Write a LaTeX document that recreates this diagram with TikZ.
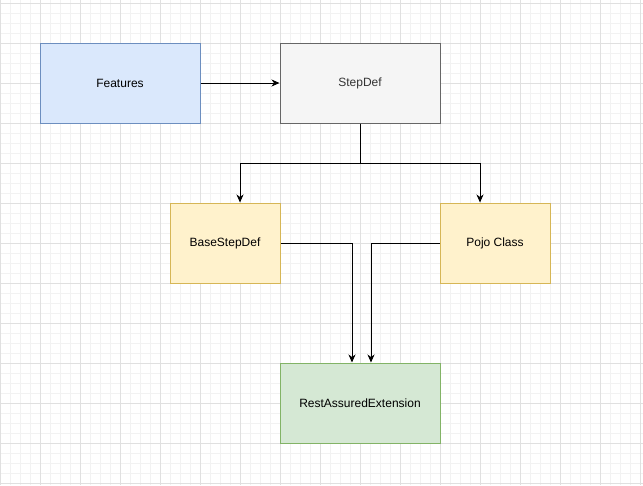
\documentclass[tikz,border=0pt]{standalone}
\usepackage{fontspec}
\setmainfont{Liberation Sans}
\usepackage{xcolor}
\usetikzlibrary{arrows.meta}

\definecolor{featfill}{HTML}{DAE8FC}
\definecolor{featline}{HTML}{6C8EBF}
\definecolor{stepfill}{HTML}{F5F5F5}
\definecolor{stepline}{HTML}{666666}
\definecolor{steptext}{HTML}{333333}
\definecolor{yelfill}{HTML}{FFF2CC}
\definecolor{yelline}{HTML}{D6B656}
\definecolor{grnfill}{HTML}{D5E8D4}
\definecolor{grnline}{HTML}{82B366}

\begin{document}
\begin{tikzpicture}[x=1pt, y=-1pt,
    box/.style={draw, line width=1pt, inner sep=0pt, minimum height=80pt,
        font=\fontsize{12}{14}\selectfont},
    wide/.style={box, minimum width=160pt},
    narrow/.style={box, minimum width=110pt},
    link/.style={line width=1pt, -{Stealth[length=8pt,width=7pt,inset=2.5pt]}},
    minorgrid/.style={draw=black!5, line width=0.5pt},
    majorgrid/.style={draw=black!12, line width=0.8pt}]
    \useasboundingbox (0,0) rectangle (643,485);
    \fill[white] (0,0) rectangle (643,485);

    % Background grid
    \foreach \x in {0,10,...,640} \draw[minorgrid] (\x,0) -- (\x,485);
    \foreach \y in {3,13,...,483} \draw[minorgrid] (0,\y) -- (643,\y);
    \foreach \x in {0,40,...,640} \draw[majorgrid] (\x,0) -- (\x,485);
    \foreach \y in {3,43,...,483} \draw[majorgrid] (0,\y) -- (643,\y);

    % Top row
    \node[wide, fill=featfill, draw=featline] (features) at (120,83) {Features};
    \node[wide, fill=stepfill, draw=stepline, text=steptext] (stepdef) at (360,83) {StepDef};

    % Middle row
    \node[narrow, fill=yelfill, draw=yelline] (basestep) at (225,243) {BaseStepDef};
    \node[narrow, fill=yelfill, draw=yelline] (pojo) at (495,243) {Pojo Class};

    % Bottom
    \node[wide, fill=grnfill, draw=grnline] (rest) at (360,403) {RestAssuredExtension};

    % Connectors
    \draw[link] (features) -- (stepdef);
    \draw[link] (stepdef.south) -- ++(0,40) -| ([xshift=15pt]basestep.north);
    \draw[link] (stepdef.south) -- ++(0,40) -| ([xshift=-15pt]pojo.north);
    \draw[link] (basestep.east) -| ([xshift=-8pt]rest.north);
    \draw[link] (pojo.west) -| ([xshift=11pt]rest.north);
\end{tikzpicture}
\end{document}
